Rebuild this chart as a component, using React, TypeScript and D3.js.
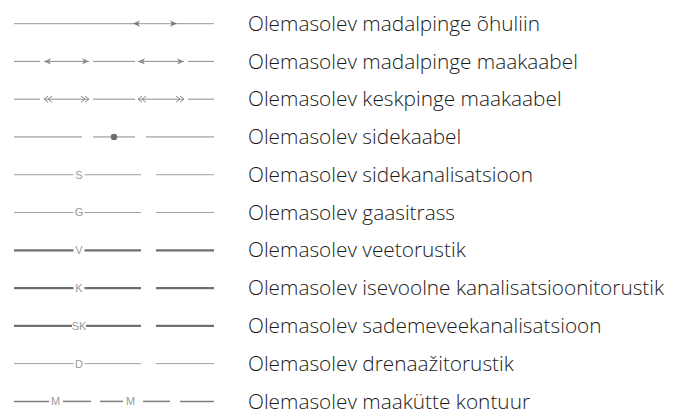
import React from "react";
import * as d3 from "d3";

// legend rows: label text and symbol kind
const labels = [
  "Olemasolev madalpinge õhuliin",
  "Olemasolev madalpinge maakaabel",
  "Olemasolev keskpinge maakaabel",
  "Olemasolev sidekaabel",
  "Olemasolev sidekanalisatsioon",
  "Olemasolev gaasitrass",
  "Olemasolev veetorustik",
  "Olemasolev isevoolne kanalisatsioonitorustik",
  "Olemasolev sademeveekanalisatsioon",
  "Olemasolev drenaažitorustik",
  "Olemasolev maakütte kontuur",
];
const kinds = ["air", "arrow", "double", "dot", "letter", "letter", "letter", "letter", "letter", "letter", "m"];
const letters = ["", "", "", "", "S", "G", "V", "K", "SK", "D", "M"];
const heavy = [false, false, false, false, false, false, true, true, true, false, false];

const W = 675;
const H = 411;

const App = () => {
  const y = d3.scalePoint<number>().domain(d3.range(labels.length)).range([23.6, 401.4]);
  const x = d3.scaleLinear().domain([0, 200]).range([14, 214]);

  const seg = (a: number, b: number, yy: number, color: string, w: number, key: string) => (
    <line key={key} x1={x(a)} x2={x(b)} y1={yy} y2={yy} stroke={color} strokeWidth={w} />
  );
  // arrow head: tip at t, dir -1 left, +1 right
  const head = (t: number, yy: number, dir: number, key: string, color = "#7a7a7a") => {
    const tx = x(t);
    const bx = tx - dir * 7;
    const p = `M${tx},${yy} L${bx},${yy - 3.2} L${bx + dir * 2},${yy} L${bx},${yy + 3.2} Z`;
    return <path key={key} d={p} fill={color} />;
  };
  const chev = (t: number, yy: number, dir: number, key: string) => {
    const tx = x(t);
    const p = (o: number) =>
      `M${tx - dir * (o + 4)},${yy - 3} L${tx - dir * o},${yy} L${tx - dir * (o + 4)},${yy + 3}`;
    return (
      <g key={key} fill="none" stroke="#8a8a8a" strokeWidth={1}>
        <path d={p(0)} />
        <path d={p(4)} />
      </g>
    );
  };

  const mark = (cx: number, yy: number, s: string, key: string) => (
    <text key={key} x={x(cx)} y={yy} dy="0.36em" textAnchor="middle" fontSize={11}
      fontFamily="Liberation Sans" fill="#999">{s}</text>
  );

  const symbol = (i: number) => {
    const yy = y(i) as number;
    const k = kinds[i];
    const out: React.ReactNode[] = [];
    if (k === "air") {
      out.push(seg(0, 200, yy, "#ababab", 1.3, "l"));
      out.push(head(119, yy, -1, "h1"));
      out.push(head(163, yy, 1, "h2"));
    } else if (k === "arrow" || k === "double") {
      const c = "#8c8c8c";
      out.push(seg(0, 26, yy, c, 1, "a"));
      out.push(seg(30, 75, yy, c, 1, "b"));
      out.push(seg(79, 121, yy, c, 1, "c"));
      out.push(seg(124, 170, yy, c, 1, "d"));
      out.push(seg(174, 200, yy, c, 1, "e"));
      if (k === "arrow") {
        out.push(head(30, yy, -1, "h1", "#8a8a8a"));
        out.push(head(75, yy, 1, "h2", "#8a8a8a"));
        out.push(head(124, yy, -1, "h3", "#8a8a8a"));
        out.push(head(170, yy, 1, "h4", "#8a8a8a"));
      } else {
        out.push(chev(30, yy, -1, "h1"));
        out.push(chev(75, yy, 1, "h2"));
        out.push(chev(124, yy, -1, "h3"));
        out.push(chev(170, yy, 1, "h4"));
      }
    } else if (k === "dot") {
      const c = "#8c8c8c";
      out.push(seg(0, 68, yy, c, 1, "a"));
      out.push(seg(79, 121, yy, c, 1, "b"));
      out.push(seg(132, 200, yy, c, 1, "c"));
      out.push(<circle key="dot" cx={x(100)} cy={yy} r={3.2} fill="#6e6e6e" />);
    } else if (k === "letter") {
      const hv = heavy[i];
      const c = hv ? "#6f6f6f" : "#a0a0a0";
      const w = hv ? 2.2 : 1;
      const L = letters[i];
      const gap = L.length > 1 ? 8 : 6.5;
      out.push(seg(0, 65 - gap + 1, yy, c, w, "a"));
      out.push(seg(65 + gap - 1, 127, yy, c, w, "b"));
      out.push(seg(142, 200, yy, c, w, "c"));
      out.push(mark(65, yy, L, "t"));
    } else if (k === "m") {
      const c = "#7f7f7f";
      const w = 1.5;
      out.push(seg(0, 35, yy, c, w, "a"));
      out.push(seg(49, 77, yy, c, w, "b"));
      out.push(seg(86, 109, yy, c, w, "c"));
      out.push(seg(129, 156, yy, c, w, "d"));
      out.push(seg(166, 200, yy, c, w, "e"));
      out.push(mark(41.5, yy, letters[i], "t1"));
      out.push(mark(116.5, yy, letters[i], "t2"));
    }
    return out;
  };

  return (
    <svg width={W} height={H} style={{ position: "absolute", left: 0, top: 0, background: "#fff" }}>
      {labels.map((lab, i) => (
        <g key={i}>
          {symbol(i)}
          <text x={248} y={(y(i) as number) + 7.2} fontSize={20.8}
            fontFamily="Open Sans" fontWeight={300} fill="#1a1a1a">{lab}</text>
        </g>
      ))}
    </svg>
  );
};

export default App;
